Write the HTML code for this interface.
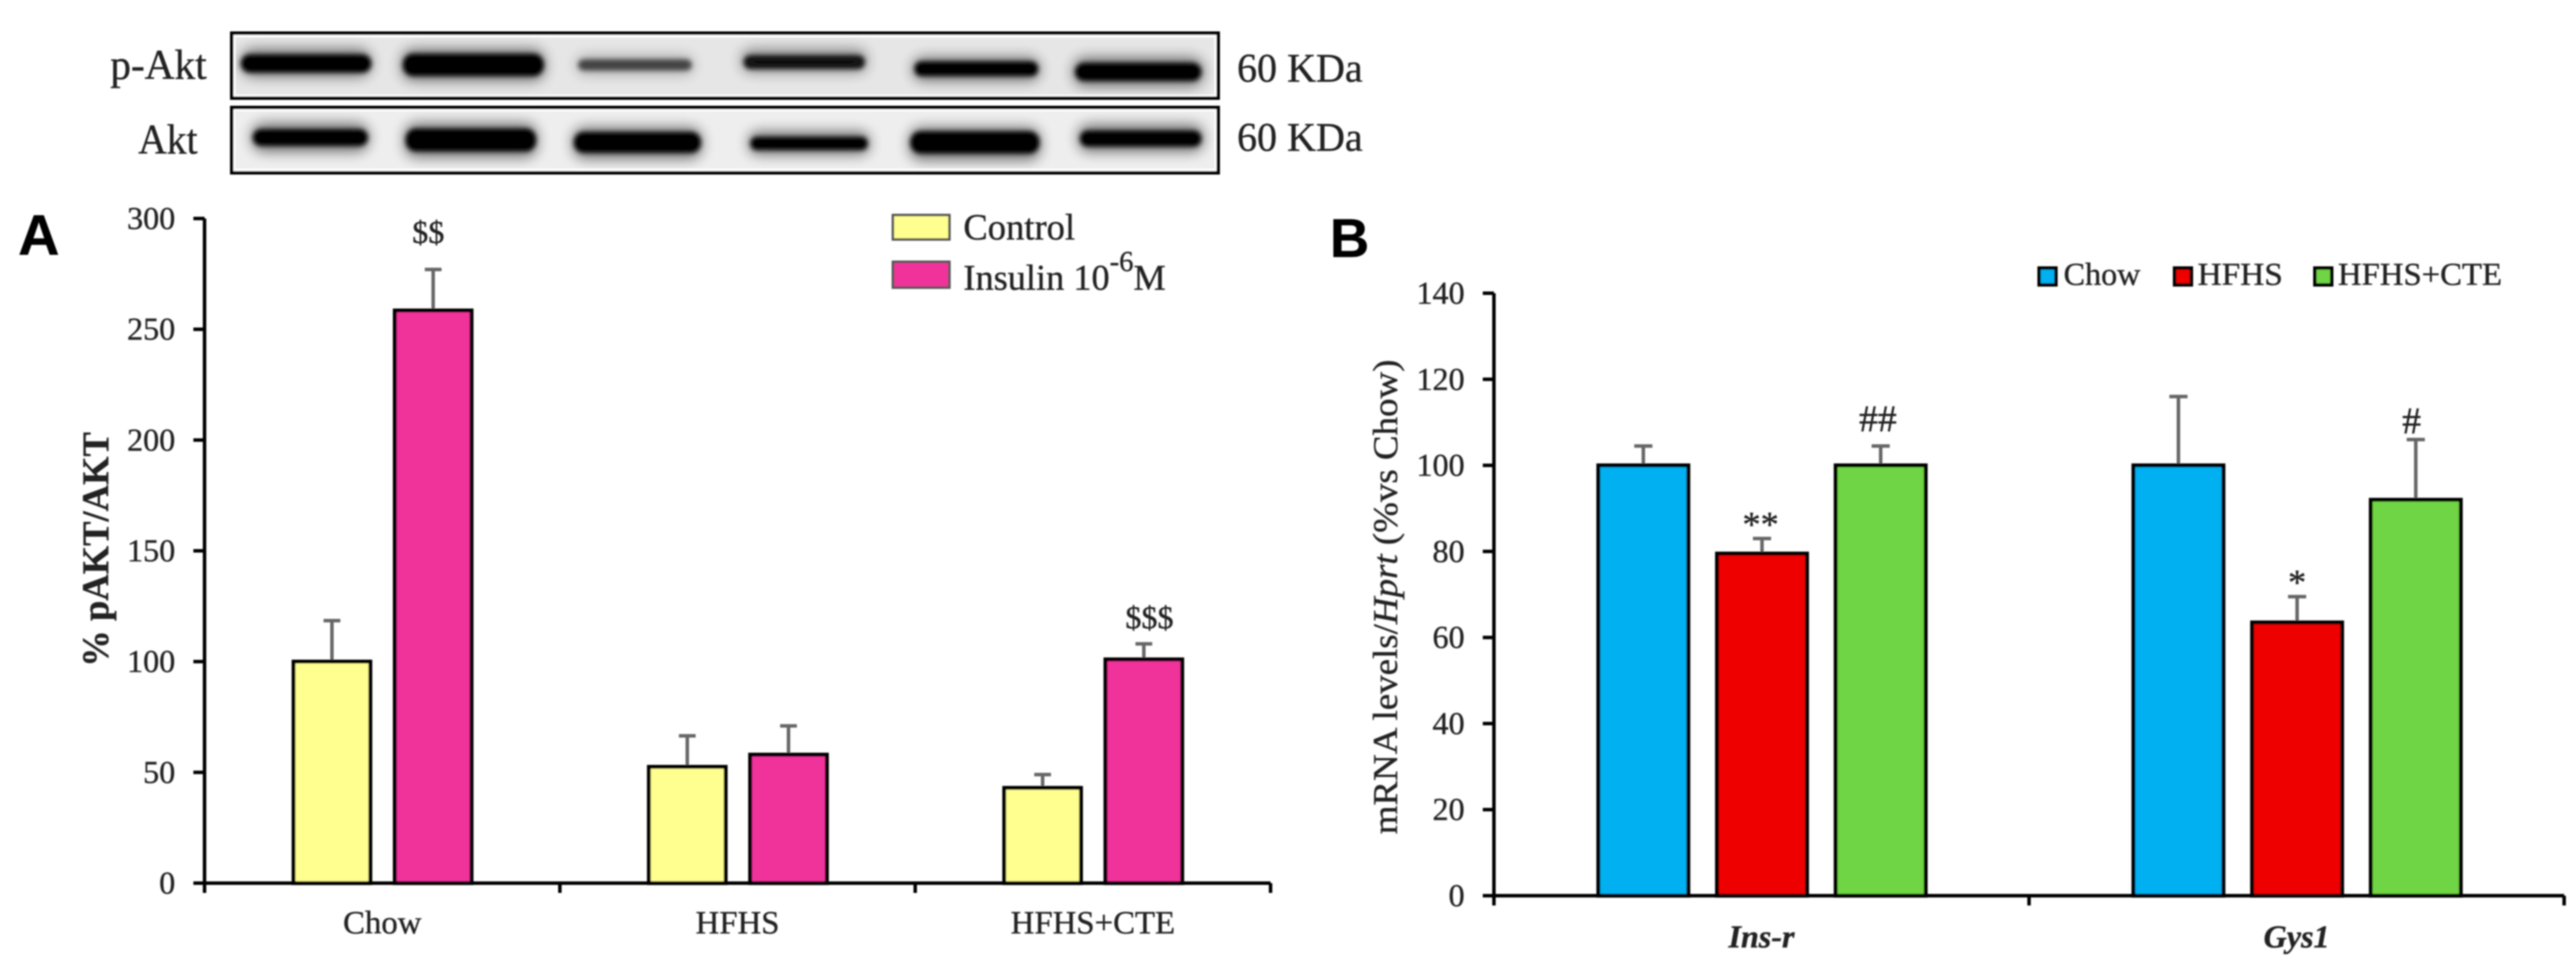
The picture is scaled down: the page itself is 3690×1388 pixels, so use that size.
<!DOCTYPE html>
<html lang="en">
<head>
<meta charset="utf-8">
<title>p-Akt and mRNA bar charts</title>
<style>
html,body{margin:0;padding:0;background:#fff;width:3690px;height:1388px;overflow:hidden}
svg{display:block}
text{font-family:"Liberation Serif",serif;fill:#222;stroke:#222;stroke-width:.5px}
</style>
</head>
<body>
<svg id="figure" xmlns="http://www.w3.org/2000/svg" width="3690" height="1388" viewBox="0 0 3690 1388">
  <defs>
    <filter id="soft" x="-2%" y="-2%" width="104%" height="104%"><feGaussianBlur stdDeviation="1"/></filter>
    <filter id="bandCore" x="-20%" y="-60%" width="140%" height="220%"><feGaussianBlur stdDeviation="3.5"/></filter>
    <filter id="bandHalo" x="-30%" y="-150%" width="160%" height="400%"><feGaussianBlur stdDeviation="9"/></filter>
    <clipPath id="clipTop"><rect x="334" y="52" width="1408" height="86"/></clipPath>
    <clipPath id="clipBottom"><rect x="334" y="158" width="1408" height="86"/></clipPath>
  </defs>
  <g id="root" filter="url(#soft)">
    <g>
      <rect x="332" y="48" width="1413" height="93" fill="#e6e6e6"/>
      <rect x="332" y="154" width="1413" height="93" fill="#eeeeee"/>
      <g clip-path="url(#clipTop)">
        <g filter="url(#bandHalo)" fill="#000" opacity=".5">
          <rect x="345" y="70" width="187" height="40" rx="18"/><rect x="575" y="70" width="206" height="46" rx="18"/>
          <rect x="826" y="80" width="167" height="26" rx="12" opacity=".55"/><rect x="1062" y="70" width="180" height="34" rx="14" opacity=".8"/>
          <rect x="1307" y="82" width="183" height="34" rx="16"/><rect x="1537" y="82" width="187" height="42" rx="18"/>
        </g>
        <g filter="url(#bandCore)" fill="#000">
          <rect x="345" y="78" width="187" height="26" rx="13"/>
          <rect x="577" y="77" width="202" height="32" rx="15"/>
          <rect x="828" y="85" width="163" height="16" rx="8" opacity=".62"/>
          <rect x="1065" y="79" width="174" height="20" rx="10" opacity=".88"/>
          <rect x="1310" y="88" width="177" height="21" rx="10"/>
          <rect x="1540" y="90" width="181" height="26" rx="13"/>
        </g>
      </g>
      <g clip-path="url(#clipBottom)">
        <g filter="url(#bandHalo)" fill="#000" opacity=".5">
          <rect x="360" y="176" width="169" height="42" rx="18"/><rect x="579" y="176" width="191" height="50" rx="18"/>
          <rect x="820" y="182" width="186" height="46" rx="18"/><rect x="1072" y="188" width="174" height="34" rx="14"/>
          <rect x="1302" y="182" width="189" height="48" rx="18"/><rect x="1544" y="178" width="180" height="40" rx="16"/>
        </g>
        <g filter="url(#bandCore)" fill="#000">
          <rect x="362" y="185" width="165" height="24" rx="12"/>
          <rect x="581" y="184" width="187" height="33" rx="15"/>
          <rect x="822" y="189" width="182" height="30" rx="14"/>
          <rect x="1075" y="196" width="168" height="19" rx="9"/>
          <rect x="1304" y="188" width="185" height="32" rx="15"/>
          <rect x="1547" y="187" width="174" height="23" rx="11"/>
        </g>
      </g>
      <g fill="none" stroke="#fff" stroke-width="3">
        <rect x="336" y="52" width="1405" height="85"/>
        <rect x="336" y="158" width="1405" height="85"/>
      </g>
      <g fill="none" stroke="#000" stroke-width="5">
        <rect x="332" y="47.5" width="1413" height="93"/>
        <rect x="332" y="154" width="1413" height="93.5"/>
      </g>
      <text x="158" y="113" font-size="60" textLength="138" lengthAdjust="spacingAndGlyphs">p-Akt</text>
      <text x="198" y="220" font-size="60" textLength="85" lengthAdjust="spacingAndGlyphs">Akt</text>
      <text x="1772" y="117" font-size="58" textLength="180" lengthAdjust="spacingAndGlyphs">60 KDa</text>
      <text x="1772" y="216" font-size="58" textLength="180" lengthAdjust="spacingAndGlyphs">60 KDa</text>
    </g>

    <text x="26" y="365" font-size="82" font-weight="bold" style='font-family:"Liberation Sans",sans-serif;fill:#000;stroke:#000'>A</text>
    <text x="1905" y="368" font-size="78" font-weight="bold" style='font-family:"Liberation Sans",sans-serif;fill:#000;stroke:#000'>B</text>

    <text transform="translate(155 955) rotate(-90)" font-size="54" font-weight="bold" textLength="336" lengthAdjust="spacingAndGlyphs">% pAKT/AKT</text>
    <text transform="translate(2001 1195) rotate(-90)" font-size="50" textLength="680" lengthAdjust="spacingAndGlyphs">mRNA levels/<tspan font-style="italic">Hprt</tspan> (%vs Chow)</text>

    <g>
      <rect x="1279" y="308" width="81" height="35" fill="#ffff8f" stroke="#555" stroke-width="3.5"/>
      <text x="1380" y="343" font-size="53" textLength="160" lengthAdjust="spacingAndGlyphs">Control</text>
      <rect x="1279" y="375" width="81" height="37" fill="#f0309b" stroke="#555" stroke-width="3.5"/>
      <text x="1380" y="415" font-size="52">Insulin 10<tspan font-size="41" dy="-27">-6</tspan><tspan dy="27">M</tspan></text>
    </g>

    <g>
      <rect x="2921" y="384" width="24" height="24" fill="#00b0f0" stroke="#000" stroke-width="5"/>
      <text x="2956" y="408" font-size="46" textLength="110" lengthAdjust="spacingAndGlyphs">Chow</text>
      <rect x="3115" y="384" width="24" height="24" fill="#ee0000" stroke="#000" stroke-width="5"/>
      <text x="3148" y="408" font-size="46" textLength="122" lengthAdjust="spacingAndGlyphs">HFHS</text>
      <rect x="3316" y="384" width="24" height="24" fill="#70d544" stroke="#000" stroke-width="5"/>
      <text x="3349" y="408" font-size="46" textLength="235" lengthAdjust="spacingAndGlyphs">HFHS+CTE</text>
    </g>

    <g id="chartA"></g>
    <g id="chartB"></g>
  </g>
</svg>
<script>
// Panel A data
const categoriesA = ['Chow', 'HFHS', 'HFHS+CTE'];
const controlValues = [100, 52.5, 43];
const controlErrorTops = [118.5, 66.5, 49];
const insulinValues = [258.5, 58, 101];
const insulinErrorTops = [277, 71, 108];
const ticksA = [0, 50, 100, 150, 200, 250, 300];

// Panel B data
const categoriesB = ['Ins-r', 'Gys1'];
const chowValues = [100, 100];
const chowErrorTops = [104.5, 116];
const hfhsValues = [79.5, 63.5];
const hfhsErrorTops = [83, 69.5];
const cteValues = [100, 92];
const cteErrorTops = [104.5, 106];
const ticksB = [0, 20, 40, 60, 80, 100, 120, 140];

const NS = 'http://www.w3.org/2000/svg';

function make(tag, parent, attrs) {
  const el = document.createElementNS(NS, tag);
  Object.keys(attrs).forEach(function (k) { el.setAttribute(k, attrs[k]); });
  parent.appendChild(el);
  return el;
}

function drawChart(parent, cfg) {
  const yScale = function (v) { return cfg.y0 - (v / cfg.yMax) * (cfg.y0 - cfg.yTop); };
  const step = (cfg.xEnd - cfg.x0) / cfg.categories.length;
  const groupLeft = function (i) { return cfg.x0 + i * step; };
  const barLeft = function (i, s) { return groupLeft(i) + cfg.firstOffset + s * (cfg.barWidth + cfg.barGap); };

  cfg.series.forEach(function (series, s) {
    series.values.forEach(function (value, i) {
      const left = barLeft(i, s);
      const centre = left + cfg.barWidth / 2;
      const errTop = yScale(series.errorTops[i]);
      const err = make('path', parent, {
        d: 'M' + centre + ' ' + yScale(value) + 'V' + errTop + 'M' + (centre - cfg.capHalf) + ' ' + errTop + 'H' + (centre + cfg.capHalf),
        fill: 'none', stroke: '#666', 'stroke-width': 5
      });
      
      
      const bar = make('rect', parent, {
        x: left + 2.5, y: yScale(value), width: cfg.barWidth - 5, height: cfg.y0 - yScale(value),
        fill: series.color, stroke: '#000', 'stroke-width': 5.5
      });
      
      
    });
  });

  const yAxis = make('path', parent, {
    d: 'M' + cfg.x0 + ' ' + cfg.yTop + 'V' + (cfg.y0 + 14), fill: 'none', stroke: '#000', 'stroke-width': 5
  });
  
  

  const xAxis = make('path', parent, {
    d: 'M' + (cfg.x0 - 16) + ' ' + cfg.y0 + 'H' + cfg.xEnd, fill: 'none', stroke: '#000', 'stroke-width': 5
  });
  
  

  cfg.ticks.forEach(function (t) {
    const mark = make('path', parent, {
      d: 'M' + (cfg.x0 - 16) + ' ' + yScale(t) + 'H' + cfg.x0, fill: 'none', stroke: '#000', 'stroke-width': 5
    });
    
    
    const label = make('text', parent, {
      x: cfg.x0 - 42, y: yScale(t) + 15, 'font-size': 46, 'text-anchor': 'end'
    });
    label.textContent = String(t);
    
    
  });

  for (let i = 1; i <= cfg.categories.length; i++) {
    const mark = make('path', parent, {
      d: 'M' + groupLeft(i) + ' ' + cfg.y0 + 'v14', fill: 'none', stroke: '#000', 'stroke-width': 5
    });
    
    
  }

  cfg.categories.forEach(function (name, i) {
    const label = make('text', parent, {
      x: groupLeft(i) + step / 2, y: cfg.labelY, 'text-anchor': 'middle',
      'font-size': cfg.labelSize
    });
    if (cfg.labelStyle) {
      label.setAttribute('font-weight', 'bold');
      label.setAttribute('font-style', 'italic');
    }
    label.textContent = name;
    
    
  });

  cfg.notes.forEach(function (n) {
    const note = make('text', parent, {
      x: barLeft(n.group, n.series) + cfg.barWidth / 2 + n.dx, y: yScale(n.level),
      'text-anchor': 'middle', 'font-size': n.size
    });
    note.textContent = n.text;
    
    
  });
}

drawChart(document.getElementById('chartA'), {
  categories: categoriesA, ticks: ticksA, yMax: 300,
  x0: 293, xEnd: 1820, y0: 1265, yTop: 313,
  firstOffset: 125, barWidth: 115, barGap: 30, capHalf: 12,
  labelY: 1337, labelSize: 47, labelStyle: false,
  series: [
    { key: 'control', color: '#ffff8f', values: controlValues, errorTops: controlErrorTops },
    { key: 'insulin', color: '#f0309b', values: insulinValues, errorTops: insulinErrorTops }
  ],
  notes: [
    { group: 0, series: 1, text: '$$', level: 289, dx: -7, size: 46 },
    { group: 2, series: 1, text: '$$$', level: 115, dx: 8, size: 46 }
  ]
});

drawChart(document.getElementById('chartB'), {
  categories: categoriesB, ticks: ticksB, yMax: 140,
  x0: 2140, xEnd: 3673, y0: 1283, yTop: 420,
  firstOffset: 147, barWidth: 134, barGap: 36, capHalf: 13,
  labelY: 1357, labelSize: 46, labelStyle: true,
  series: [
    { key: 'chow', color: '#00b0f0', values: chowValues, errorTops: chowErrorTops },
    { key: 'hfhs', color: '#ee0000', values: hfhsValues, errorTops: hfhsErrorTops },
    { key: 'hfhs-cte', color: '#70d544', values: cteValues, errorTops: cteErrorTops }
  ],
  notes: [
    { group: 0, series: 1, text: '**', level: 83.5, dx: -2, size: 52 },
    { group: 0, series: 2, text: '##', level: 108, dx: -4, size: 54 },
    { group: 1, series: 1, text: '*', level: 70, dx: 0, size: 52 },
    { group: 1, series: 2, text: '#', level: 107.5, dx: -6, size: 54 }
  ]
});
</script>
</body>
</html>
